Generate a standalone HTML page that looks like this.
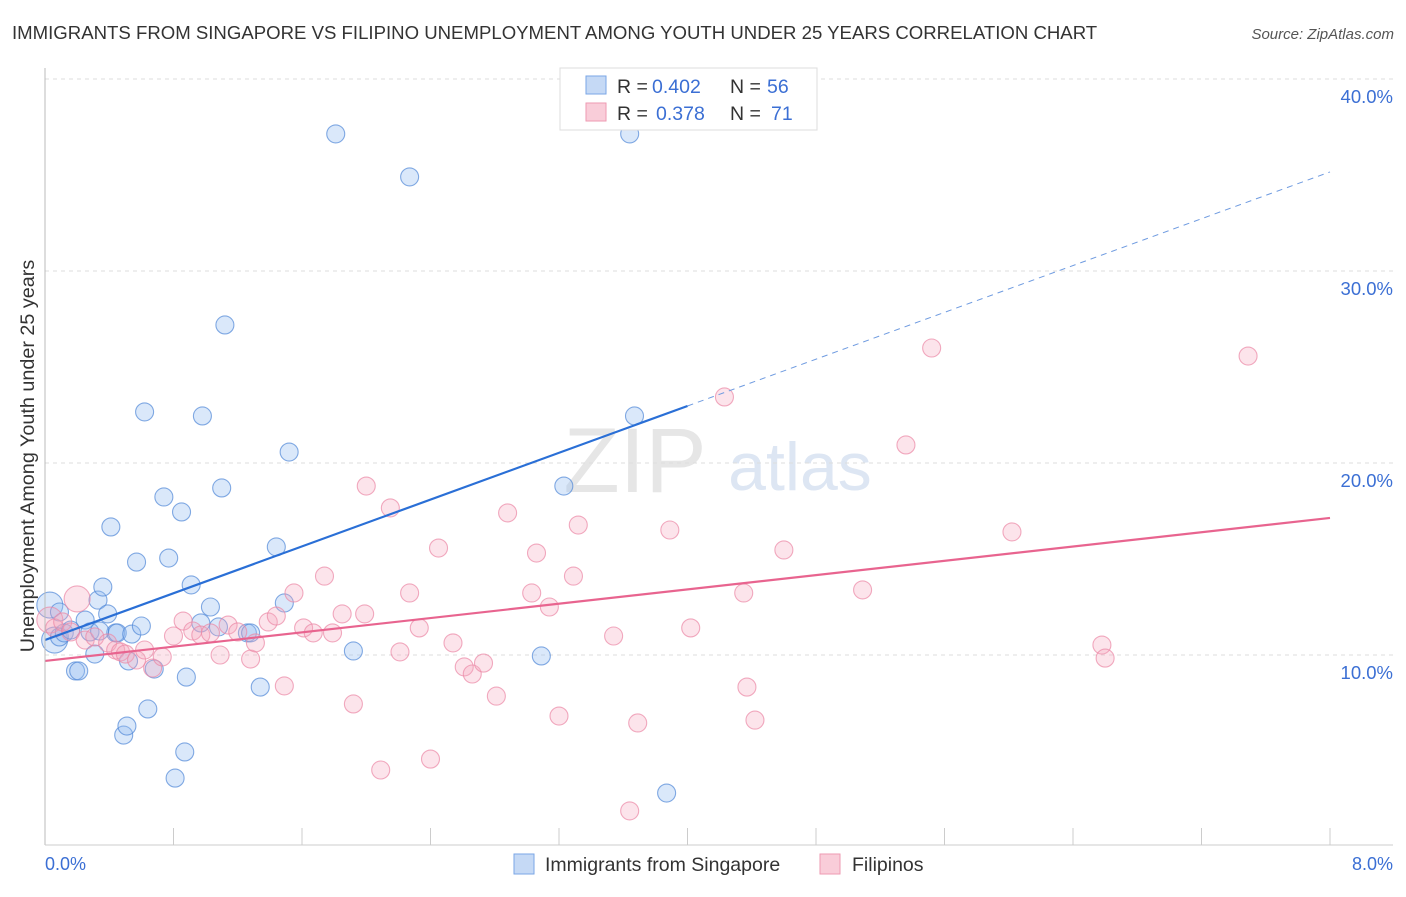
<!DOCTYPE html>
<html><head><meta charset="utf-8"><style>
body{margin:0;background:#fff;font-family:"Liberation Sans",sans-serif;}
svg text{font-family:"Liberation Sans",sans-serif;}
</style></head><body>
<svg id="c" width="1406" height="892">
<text x="12" y="39" font-size="18.6" fill="#333">IMMIGRANTS FROM SINGAPORE VS FILIPINO UNEMPLOYMENT AMONG YOUTH UNDER 25 YEARS CORRELATION CHART</text>
<text x="1394" y="39" font-size="15" fill="#555" font-style="italic" text-anchor="end">Source: ZipAtlas.com</text>
<text x="34" y="456" font-size="19.8" fill="#333" text-anchor="middle" transform="rotate(-90 34 456)">Unemployment Among Youth under 25 years</text>
<text x="635" y="492" font-size="92" fill="#e6e6e6" font-family="Liberation Serif" text-anchor="middle">ZIP</text>
<text x="800" y="490" font-size="68" fill="#dde6f3" text-anchor="middle">atlas</text>
<g id="grid"></g><g id="pts"></g><g id="lines"></g>
<line x1="45" y1="68" x2="45" y2="845" stroke="#bbb"/>
<line x1="45" y1="845" x2="1393" y2="845" stroke="#ccc"/>
<text x="45" y="870" font-size="18" fill="#3b6fd4">0.0%</text>
<text x="1393" y="870" font-size="18" fill="#3b6fd4" text-anchor="end">8.0%</text>
<g>
<rect x="560" y="68" width="257" height="62" fill="#fff" stroke="#ddd"/>
<rect x="586" y="76" width="20" height="18" fill="#c5d9f5" stroke="#7aa6e6"/>
<rect x="586" y="103" width="20" height="18" fill="#f9cdd9" stroke="#ee9ab2"/>
<text x="617" y="93" font-size="19.5" fill="#333">R =</text>
<text x="652" y="93" font-size="19.5" fill="#3b6fd4">0.402</text>
<text x="730" y="93" font-size="19.5" fill="#333">N =</text>
<text x="767" y="93" font-size="19.5" fill="#3b6fd4">56</text>
<text x="617" y="120" font-size="19.5" fill="#333">R =</text>
<text x="656" y="120" font-size="19.5" fill="#3b6fd4">0.378</text>
<text x="730" y="120" font-size="19.5" fill="#333">N =</text>
<text x="771" y="120" font-size="19.5" fill="#3b6fd4">71</text>
</g>
<g>
<rect x="514" y="854" width="20" height="20" fill="#c5d9f5" stroke="#7aa6e6"/>
<text x="545" y="871" font-size="19.5" fill="#333">Immigrants from Singapore</text>
<rect x="820" y="854" width="20" height="20" fill="#f9cdd9" stroke="#ee9ab2"/>
<text x="852" y="871" font-size="19.5" fill="#333">Filipinos</text>
</g>
</svg>
<script>
const yTicks=[10,20,30,40];
const xTickVals=[0,0.8,1.6,2.4,3.2,4.0,4.8,5.6,6.4,7.2,8.0];
const blueX=[.03,.06,.09,.12,.16,.19,.21,.25,.28,.31,.33,.36,.39,.41,.44,.45,.52,.54,.57,.60,.62,.64,.49,.51,.68,.74,.77,.81,.85,.87,.88,.91,.98,1.03,1.08,1.10,1.12,1.26,1.28,1.34,1.44,1.49,1.52,1.81,1.92,2.27,3.09,3.23,3.64,3.67,3.87,.97,.09,.34];
const blueY=[12.6,10.78,10.94,11.15,11.3,9.17,9.17,11.82,11.2,10.05,12.86,13.54,12.14,16.67,11.15,11.15,9.69,11.09,14.84,11.51,22.66,7.19,5.83,6.3,9.27,18.23,15.05,3.59,17.45,4.95,8.85,13.65,22.45,12.5,11.46,18.7,27.19,11.15,11.15,8.33,15.63,12.71,20.57,37.14,10.21,34.9,9.95,18.8,37.14,22.45,2.81,11.67,12.24,11.25];
const pinkX=[.03,.06,.11,.16,.20,.25,.31,.39,.44,.47,.50,.57,.62,.67,.73,.80,.86,.92,.97,1.03,1.09,1.14,1.20,1.28,1.31,1.39,1.44,1.49,1.55,1.61,1.67,1.74,1.79,1.85,1.92,1.99,2.00,2.09,2.15,2.21,2.27,2.33,2.40,2.45,2.54,2.61,2.66,2.73,2.81,2.88,3.03,3.06,3.14,3.20,3.29,3.32,3.54,3.64,3.69,3.89,4.02,4.23,4.35,4.37,4.42,4.60,5.09,5.36,5.52,6.02,6.58,6.60,7.49];
const pinkY=[11.82,11.41,11.72,11.2,12.92,10.78,10.94,10.63,10.26,10.16,10.05,9.74,10.26,9.32,9.9,10.99,11.77,11.25,11.04,11.15,10.0,11.56,11.2,9.79,10.63,11.72,12.03,8.39,13.23,11.41,11.15,14.11,11.15,12.14,7.45,12.14,18.8,4.01,17.66,10.16,13.23,11.41,4.58,15.57,10.63,9.38,9.01,9.58,7.86,17.4,13.23,15.31,12.5,6.82,14.11,16.77,10.99,1.88,6.46,16.51,11.41,23.44,13.23,8.33,6.61,15.47,13.39,20.94,25.99,16.41,10.52,9.84,25.57];
const blueFit=[10.78,22.97,35.16]; // at x=0,4,8
const pinkFit=[9.69,17.14]; // at x=0,8
const NS='http://www.w3.org/2000/svg';
const sx=v=>45+v/8*1285, sy=v=>847-v*19.2;
function mk(t,a,p){const e=document.createElementNS(NS,t);for(const k in a)e.setAttribute(k,a[k]);p.appendChild(e);return e;}
const grid=document.getElementById('grid');
yTicks.forEach(v=>{
 const l=mk('line',{x1:45,x2:1393,y1:sy(v),y2:sy(v),stroke:'#ddd','stroke-dasharray':'4,4'},grid);
 
 
 const t=mk('text',{x:1393,y:sy(v)+24,'font-size':18.5,fill:'#3b6fd4','text-anchor':'end'},grid);
 t.textContent=v.toFixed(1)+'%';
 
 
});
xTickVals.forEach(v=>{
 const l=mk('line',{x1:sx(v),x2:sx(v),y1:828,y2:845,stroke:'#ccc'},grid);
 
 
});
const pts=document.getElementById('pts');
blueX.forEach((x,i)=>{
 const c=mk('circle',{cx:sx(x),cy:sy(blueY[i]),r:i<2?13:9,fill:'rgba(150,188,240,0.35)',stroke:'rgba(80,135,215,0.7)','stroke-width':1.1},pts);
 
 
});
pinkX.forEach((x,i)=>{
 const c=mk('circle',{cx:sx(x),cy:sy(pinkY[i]),r:(i==0||i==4)?13:9,fill:'rgba(245,165,190,0.3)',stroke:'rgba(235,135,165,0.7)','stroke-width':1.1},pts);
 
 
});
const lg=document.getElementById('lines');
let l1=mk('line',{x1:sx(0),y1:sy(blueFit[0]),x2:sx(4),y2:sy(blueFit[1]),stroke:'#2a6fd6','stroke-width':2.2},lg);


let l2=mk('line',{x1:sx(4),y1:sy(blueFit[1]),x2:sx(8),y2:sy(blueFit[2]),stroke:'#6f9be0','stroke-width':1,'stroke-dasharray':'6,5'},lg);


let l3=mk('line',{x1:sx(0),y1:sy(pinkFit[0]),x2:sx(8),y2:sy(pinkFit[1]),stroke:'#e8648f','stroke-width':2.2},lg);


</script>
</body></html>
